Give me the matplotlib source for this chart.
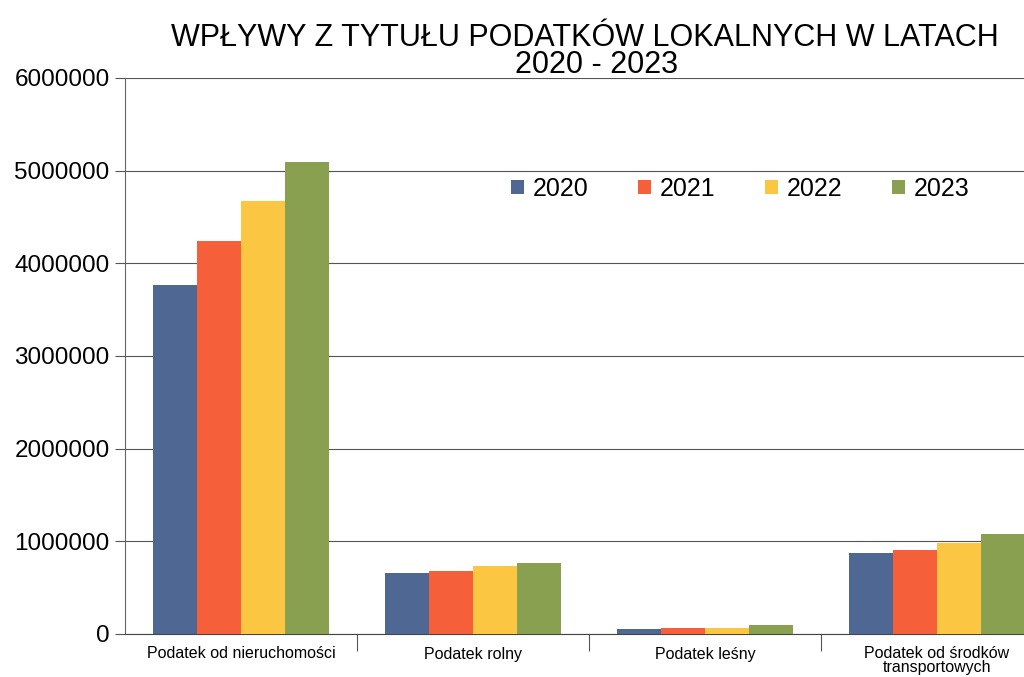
import numpy as np
import matplotlib.pyplot as plt

# ── data ────────────────────────────────────────────────────────
categories = ["Podatek od nieruchomości", "Podatek rolny", "Podatek leśny",
              "Podatek od środków\ntransportowych"]
years = ["2020", "2021", "2022", "2023"]
v2020 = [3770000, 660000, 55000, 870000]
v2021 = [4240000, 680000, 62000, 910000]
v2022 = [4670000, 730000, 70000, 980000]
v2023 = [5090000, 770000, 95000, 1080000]
y_ticks = [0, 1000000, 2000000, 3000000, 4000000, 5000000, 6000000]

colors = ["#4f6893", "#f55f3a", "#fbc742", "#88a04f"]

plt.rcParams['font.family'] = ['Liberation Sans', 'DejaVu Sans']

fig = plt.figure(figsize=(10.24, 6.77), dpi=100)
# plot area runs past the right edge, as in the cropped scan
ax = fig.add_axes([125 / 1024, 43 / 677, 928 / 1024, 556 / 677])

x = np.arange(len(categories))
bw = 0.19
for i, (yr, vals) in enumerate(zip(years, [v2020, v2021, v2022, v2023])):
    ax.bar(x + (i - 1.5) * bw, vals, width=bw, color=colors[i], label=yr,
           zorder=3)

ax.set_xlim(-0.5, len(categories) - 0.5)
ax.set_ylim(0, 6000000)
ax.set_yticks(y_ticks)
ax.set_yticklabels([str(v) for v in y_ticks], fontsize=17.5)
ax.tick_params(axis='y', length=7, width=0.8, color='#555555', pad=4)

# tick marks at group boundaries, labels at group centres
ax.set_xticks(x[:-1] + 0.5)
ax.set_xticklabels([])
ax.tick_params(axis='x', which='major', length=12, width=0.8, color='#555555')
ax.set_xticks(x, minor=True)
ax.set_xticklabels(categories, minor=True, fontsize=11.5, va='top',
                   linespacing=0.9)
ax.tick_params(axis='x', which='minor', length=0, pad=9)

ax.grid(axis='y', color='#555555', linewidth=0.8, zorder=0)
for s in ['top', 'right']:
    ax.spines[s].set_visible(False)
ax.spines['left'].set_color('#666666')
ax.spines['bottom'].set_color('#444444')

ax.legend(loc='center left', bbox_to_anchor=(0.392, 0.80), ncol=4, frameon=False,
          fontsize=18, handlelength=0.5, handleheight=0.5, handletextpad=0.35,
          columnspacing=2.0)

fig.text(585 / 1024, 1 - 38 / 677, "WPŁYWY Z TYTUŁU PODATKÓW LOKALNYCH W LATACH",
         ha='center', va='center', fontsize=22)
fig.text(597 / 1024, 1 - 65 / 677, "2020 - 2023", ha='center', va='center',
         fontsize=22)

fig.savefig("out.png", dpi=100)
